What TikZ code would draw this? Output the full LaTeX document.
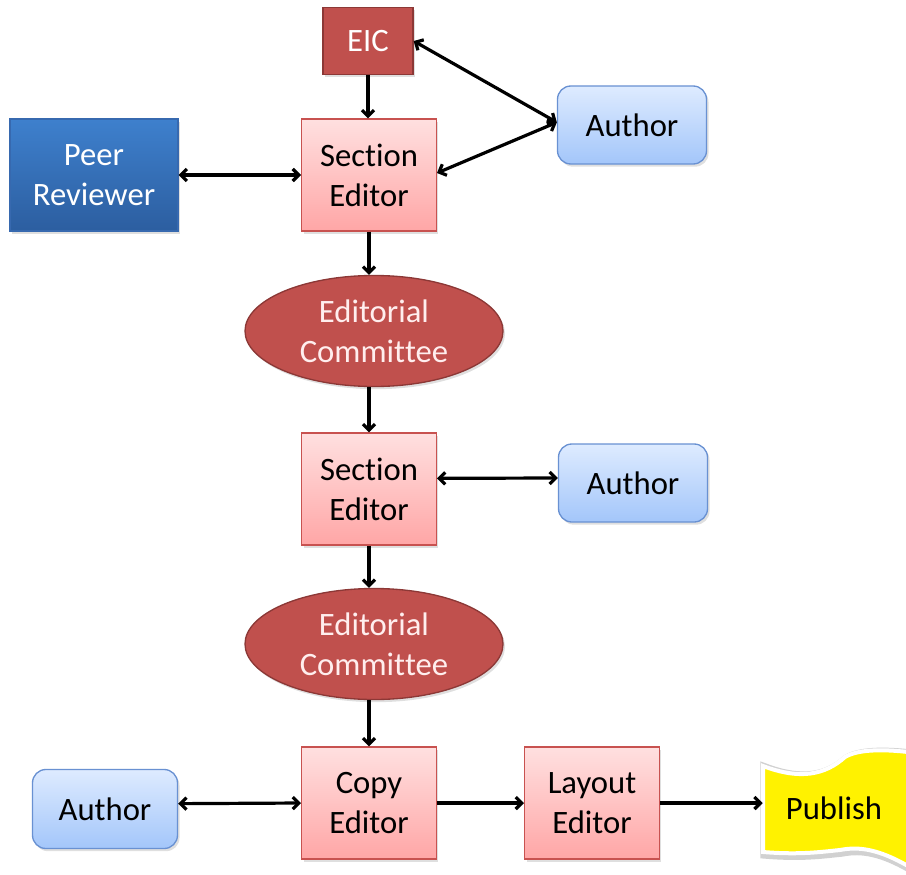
\documentclass[tikz,border=0pt]{standalone}
\usepackage{fontspec}
\setmainfont{Carlito}[Ligatures={NoCommon,NoContextual}]
\usetikzlibrary{shapes.geometric,arrows.meta,shadows}
\newcommand{\nolig}{\kern0pt}
\definecolor{eicred}{RGB}{192,80,77}
\definecolor{eicborder}{RGB}{140,56,54}
\definecolor{pinktop}{RGB}{255,224,224}
\definecolor{pinkbottom}{RGB}{255,166,166}
\definecolor{pinkborder}{RGB}{200,82,80}
\definecolor{bluetop}{RGB}{222,235,255}
\definecolor{bluebottom}{RGB}{163,198,250}
\definecolor{blueborder}{RGB}{105,145,210}
\definecolor{peertop}{RGB}{62,128,205}
\definecolor{peerbottom}{RGB}{44,94,160}
\definecolor{peerborder}{RGB}{55,105,175}
\definecolor{lighttext}{RGB}{255,238,238}
\tikzstyle{boxshadow} = [drop shadow={shadow xshift=1.5pt, shadow yshift=-2pt, opacity=0.25}]
\tikzstyle{editor} = [draw=pinkborder, line width=1pt, top color=pinktop, bottom color=pinkbottom, minimum width=101pt, minimum height=84pt, align=center, boxshadow]
\tikzstyle{author} = [draw=blueborder, line width=1pt, rounded corners=10pt, top color=bluetop, bottom color=bluebottom, minimum width=111.75pt, minimum height=58.5pt, boxshadow]
\tikzstyle{peer} = [draw=peerborder, line width=1pt, top color=peertop, bottom color=peerbottom, text=white, minimum width=126pt, minimum height=84pt, align=center, boxshadow]
\tikzstyle{eic} = [draw=eicborder, line width=1pt, fill=eicred, text=white, minimum width=67.5pt, minimum height=50pt, boxshadow]
\tikzstyle{committee} = [ellipse, draw=eicborder, line width=1pt, fill=eicred, text=lighttext, inner sep=0pt, minimum width=193.5pt, minimum height=83.25pt, align=center, boxshadow]
\tikzstyle{arrow} = [draw, line width=2.4pt, -{Straight Barb[length=4.5pt,width=9pt]}]
\tikzstyle{biarrow} = [draw, line width=2.4pt, {Straight Barb[length=4.5pt,width=9pt]}-{Straight Barb[length=4.5pt,width=9pt]}]

\begin{document}
\begin{tikzpicture}[x=0.75pt, y=-0.75pt, font=\fontsize{24.5}{30}\selectfont]
      \useasboundingbox (0,0) rectangle (906,874);

      % publish banner
      \draw[black!18, line width=7pt] (765,768) .. controls (802,782) and (827,777) .. (847,759)
            .. controls (862,750) and (892,752) .. (910,754) -- (910,868)
            .. controls (882,852) and (862,848) .. (842,852)
            .. controls (822,854) and (802,857) .. (765,854) -- cycle;
      \filldraw[fill=yellow, draw=white, line width=3pt] (763,766) .. controls (800,780) and (825,775) .. (845,757)
            .. controls (860,748) and (890,750) .. (908,752) -- (908,866)
            .. controls (880,850) and (860,846) .. (840,850)
            .. controls (820,852) and (800,855) .. (763,852) -- cycle;

      \node[eic] (eic) at (368,41) {EIC};
      \node[editor] (section1) at (369,175) {Sec\nolig tion\\Editor};
      \node[author] (author1) at (632,125) {Author};
      \node[peer] (peer) at (94,175) {Peer\\Reviewer};
      \node[committee] (committee1) at (374,331) {Editorial\\Commit\nolig tee};
      \node[editor] (section2) at (369,489) {Sec\nolig tion\\Editor};
      \node[author] (author2) at (633,483) {Author};
      \node[committee] (committee2) at (374,644) {Editorial\\Commit\nolig tee};
      \node[editor] (copy) at (369,803) {Copy\\Editor};
      \node[editor] (layout) at (592,803) {Layout\\Editor};
      \node[author, minimum width=108.75pt, minimum height=59.25pt] (author3) at (105,809) {Author};
      \node[minimum width=106.5pt, minimum height=70pt] (publish) at (834,808) {Publish};

      \draw[arrow] (eic.south) -- (eic.south |- section1.north);
      \draw[biarrow] (eic.east) -- ([yshift=2pt]author1.west);
      \draw[biarrow] ([yshift=2pt]author1.west) -- ([yshift=1.5pt]section1.east);
      \draw[biarrow] (peer) -- (section1);
      \draw[arrow] (section1.south) -- (section1.south |- committee1.north);
      \draw[arrow] (section2.north |- committee1.south) -- (section2.north);
      \draw[biarrow] ([yshift=8pt]section2.east) -- ([yshift=3.75pt]author2.west);
      \draw[arrow] (section2.south) -- (section2.south |- committee2.north);
      \draw[arrow] (copy.north |- committee2.south) -- (copy.north);
      \draw[biarrow] ([yshift=4pt]author3.east) -- (copy.west);
      \draw[arrow] (copy) -- (layout);
      \draw[arrow] (layout.east) -- (layout.east -| publish.west);
\end{tikzpicture}
\end{document}
